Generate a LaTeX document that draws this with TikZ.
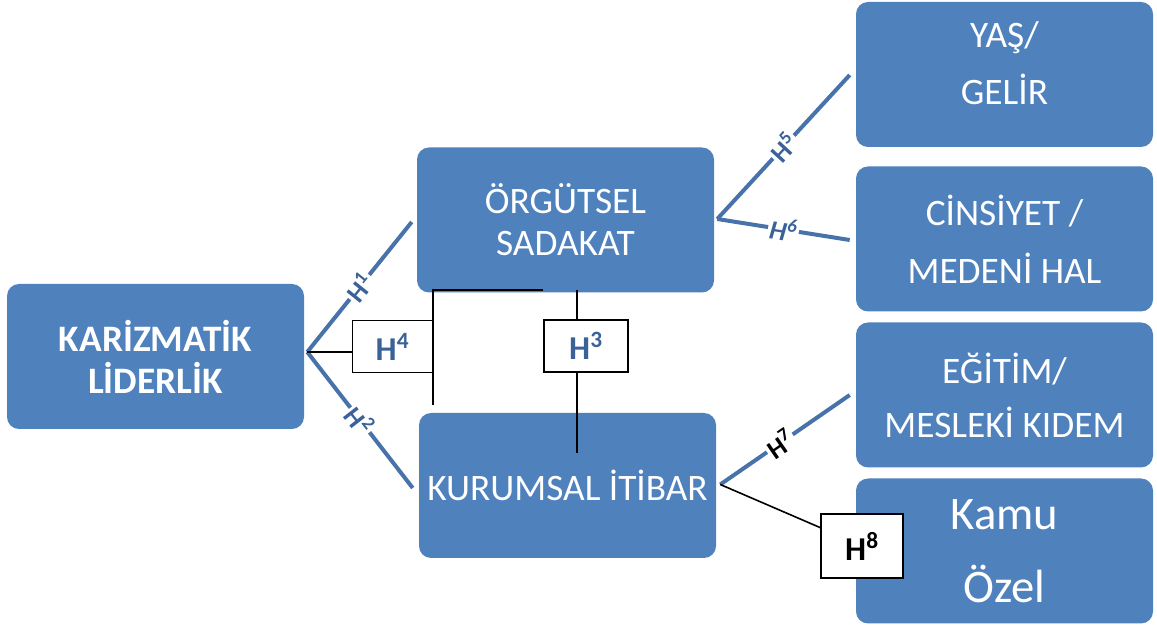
\documentclass[tikz,border=0pt]{standalone}
\usepackage{fontspec}
\setmainfont{Carlito}
\usetikzlibrary{calc}
\definecolor{boxblue}{RGB}{79,129,189}
\definecolor{linkblue}{RGB}{72,114,170}
\definecolor{hblue}{RGB}{58,98,152}

\begin{document}
\begin{tikzpicture}[x=0.75pt, y=-0.75pt,
	var/.style={fill=boxblue, rounded corners=9pt, text=white, align=center, inner sep=0pt,
		minimum width=222.75pt, minimum height=108.75pt},
	hyp/.style={draw=black, line width=1.4pt, fill=white, text=hblue, inner sep=0pt,
		font=\fontsize{25}{30}\selectfont\bfseries},
	link/.style={draw=linkblue, line width=3pt},
	hlab/.style={sloped, fill=white, text=hblue, inner sep=1.5pt,
		font=\fontsize{20}{24}\selectfont\bfseries},
	tie/.style={draw=black, line width=1.2pt}]
	\useasboundingbox (0,0) rectangle (1157,630);
	% variables
	\node[var, font=\fontsize{28}{31.5}\selectfont\bfseries] (kar) at (155.5,356.5) {KARİZMATİK\\LİDERLİK};
	\node[var, font=\fontsize{28}{31.5}\selectfont] (org) at (565.5,220) {ÖRGÜTSEL\\SADAKAT};
	\node[var, font=\fontsize{28}{31.5}\selectfont] (kur) at (567.5,485.5) {KURUMSAL İTİBAR};
	\node[var] (yas) at (1004.5,74.5) {};
	\node[text=white, align=center, font=\fontsize{28}{43}\selectfont] at ($(yas)+(0,-11)$) {YAŞ/\\GELİR};
	\node[var, font=\fontsize{28}{43.5}\selectfont] (cin) at (1004.5,239) {CİNSİYET /\\MEDENİ HAL};
	\node[var, font=\fontsize{28}{40.5}\selectfont] (egi) at (1004.5,395) {EĞİTİM/\\MESLEKİ KIDEM};
	\node[var, font=\fontsize{35}{55}\selectfont] (kam) at (1004.5,551) {Kamu\\Özel};
	% junctions
	\coordinate (kj) at ($(kar.east)+(3,-4.5)$);
	\coordinate (oj) at ($(org.east)+(3,-1)$);
	\coordinate (uj) at ($(kur.east)+(4,-1)$);
	%%% H1, H2
	\draw[link] (kj) -- node[hlab]{H\textsuperscript{1}} ($(org.west)+(-5,2)$);
	\draw[link] (kj) -- node[hlab]{H\textsuperscript{2}} ($(kur.west)+(-6,2.5)$);
	%%% H4: bracket between the mediators
	\node[hyp, minimum width=60pt, minimum height=39pt] (h4) at (392.5,346.5) {H\textsuperscript{4}};
	\draw[tie] (kj) -- (kj -| h4.west);
	\coordinate (b4t) at (433,290);
	\coordinate (b4b) at (433,405);
	\node[hyp, minimum width=63pt, minimum height=39pt] (h3) at (586,346) {H\textsuperscript{3}};
	\draw[tie] (b4b) -- (b4t) -- (b4t -| h3.west);
	\draw[line width=2pt] (b4t) -- (b4t |- kj);
	%%% H3
	\coordinate (b3t) at (577,290);
	\coordinate (b3b) at (577,453);
	\draw[tie] (b3t) -- (b3t |- h3.north);
	\draw[tie] (b3b |- h3.south) -- (b3b);
	%%% H5, H6
	\draw[link] (oj) -- node[hlab]{H\textsuperscript{5}} ($(yas.west)+(-6,0.5)$);
	\draw[link] (oj) -- node[hlab, font=\fontsize{20}{24}\selectfont\bfseries\itshape]{H\textsuperscript{6}} ($(cin.west)+(-6,1)$);
	%%% H7, H8
	\draw[link] (uj) -- node[hlab, text=black, pos=0.46]{H\textsuperscript{7}} ($(egi.west)+(-6,0)$);
	\node[hyp, text=black, minimum width=61.5pt, minimum height=48pt] (h8) at (862,546) {H\textsuperscript{8}};
	\draw[tie] (uj) -- ($(h8.north west)!0.22!(h8.south west)$);
\end{tikzpicture}
\end{document}
